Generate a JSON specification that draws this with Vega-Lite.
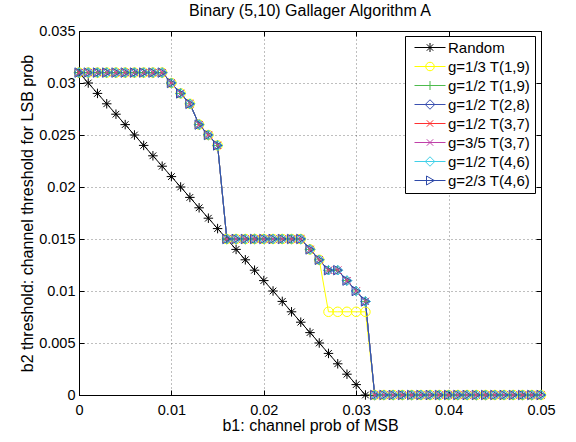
{
  "$schema": "https://vega.github.io/schema/vega-lite/v6.json",
  "autosize": "none",
  "width": 462,
  "height": 364,
  "padding": {"left": 79, "top": 31, "right": 35, "bottom": 47},
  "background": "white",
  "title": {"text": "Binary (5,10) Gallager Algorithm A", "font": "Liberation Sans", "fontSize": 16, "fontWeight": "normal", "color": "black", "anchor": "middle", "frame": "group", "baseline": "alphabetic", "offset": 12, "dy": 21},
  "config": {
    "view": {"stroke": "black", "strokeWidth": 1},
    "axis": {"domainColor": "black", "domainWidth": 1, "tickColor": "black", "tickSize": -5, "labelColor": "black", "titleColor": "black", "labelFont": "Liberation Sans", "titleFont": "Liberation Sans", "labelFontSize": 14.5, "titleFontSize": 16, "titleFontWeight": "normal", "gridColor": "#000000", "gridOpacity": 0.5, "gridDash": [1, 3], "gridWidth": 1}
  },
  "data": {"values": [
    {"x":0,"Random":0.031,"g=1/3 T(1,9)":0.031,"g=1/2 T(1,9)":0.031,"g=1/2 T(2,8)":0.031,"g=1/2 T(3,7)":0.031,"g=3/5 T(3,7)":0.031,"g=1/2 T(4,6)":0.031,"g=2/3 T(4,6)":0.031},
    {"x":0.001,"Random":0.030,"g=1/3 T(1,9)":0.031,"g=1/2 T(1,9)":0.031,"g=1/2 T(2,8)":0.031,"g=1/2 T(3,7)":0.031,"g=3/5 T(3,7)":0.031,"g=1/2 T(4,6)":0.031,"g=2/3 T(4,6)":0.031},
    {"x":0.002,"Random":0.029,"g=1/3 T(1,9)":0.031,"g=1/2 T(1,9)":0.031,"g=1/2 T(2,8)":0.031,"g=1/2 T(3,7)":0.031,"g=3/5 T(3,7)":0.031,"g=1/2 T(4,6)":0.031,"g=2/3 T(4,6)":0.031},
    {"x":0.003,"Random":0.028,"g=1/3 T(1,9)":0.031,"g=1/2 T(1,9)":0.031,"g=1/2 T(2,8)":0.031,"g=1/2 T(3,7)":0.031,"g=3/5 T(3,7)":0.031,"g=1/2 T(4,6)":0.031,"g=2/3 T(4,6)":0.031},
    {"x":0.004,"Random":0.027,"g=1/3 T(1,9)":0.031,"g=1/2 T(1,9)":0.031,"g=1/2 T(2,8)":0.031,"g=1/2 T(3,7)":0.031,"g=3/5 T(3,7)":0.031,"g=1/2 T(4,6)":0.031,"g=2/3 T(4,6)":0.031},
    {"x":0.005,"Random":0.026,"g=1/3 T(1,9)":0.031,"g=1/2 T(1,9)":0.031,"g=1/2 T(2,8)":0.031,"g=1/2 T(3,7)":0.031,"g=3/5 T(3,7)":0.031,"g=1/2 T(4,6)":0.031,"g=2/3 T(4,6)":0.031},
    {"x":0.006,"Random":0.025,"g=1/3 T(1,9)":0.031,"g=1/2 T(1,9)":0.031,"g=1/2 T(2,8)":0.031,"g=1/2 T(3,7)":0.031,"g=3/5 T(3,7)":0.031,"g=1/2 T(4,6)":0.031,"g=2/3 T(4,6)":0.031},
    {"x":0.007,"Random":0.024,"g=1/3 T(1,9)":0.031,"g=1/2 T(1,9)":0.031,"g=1/2 T(2,8)":0.031,"g=1/2 T(3,7)":0.031,"g=3/5 T(3,7)":0.031,"g=1/2 T(4,6)":0.031,"g=2/3 T(4,6)":0.031},
    {"x":0.008,"Random":0.023,"g=1/3 T(1,9)":0.031,"g=1/2 T(1,9)":0.031,"g=1/2 T(2,8)":0.031,"g=1/2 T(3,7)":0.031,"g=3/5 T(3,7)":0.031,"g=1/2 T(4,6)":0.031,"g=2/3 T(4,6)":0.031},
    {"x":0.009,"Random":0.022,"g=1/3 T(1,9)":0.031,"g=1/2 T(1,9)":0.031,"g=1/2 T(2,8)":0.031,"g=1/2 T(3,7)":0.031,"g=3/5 T(3,7)":0.031,"g=1/2 T(4,6)":0.031,"g=2/3 T(4,6)":0.031},
    {"x":0.010,"Random":0.021,"g=1/3 T(1,9)":0.030,"g=1/2 T(1,9)":0.030,"g=1/2 T(2,8)":0.030,"g=1/2 T(3,7)":0.030,"g=3/5 T(3,7)":0.030,"g=1/2 T(4,6)":0.030,"g=2/3 T(4,6)":0.030},
    {"x":0.011,"Random":0.020,"g=1/3 T(1,9)":0.029,"g=1/2 T(1,9)":0.029,"g=1/2 T(2,8)":0.029,"g=1/2 T(3,7)":0.029,"g=3/5 T(3,7)":0.029,"g=1/2 T(4,6)":0.029,"g=2/3 T(4,6)":0.029},
    {"x":0.012,"Random":0.019,"g=1/3 T(1,9)":0.028,"g=1/2 T(1,9)":0.028,"g=1/2 T(2,8)":0.028,"g=1/2 T(3,7)":0.028,"g=3/5 T(3,7)":0.028,"g=1/2 T(4,6)":0.028,"g=2/3 T(4,6)":0.028},
    {"x":0.013,"Random":0.018,"g=1/3 T(1,9)":0.026,"g=1/2 T(1,9)":0.026,"g=1/2 T(2,8)":0.026,"g=1/2 T(3,7)":0.026,"g=3/5 T(3,7)":0.026,"g=1/2 T(4,6)":0.026,"g=2/3 T(4,6)":0.026},
    {"x":0.014,"Random":0.017,"g=1/3 T(1,9)":0.025,"g=1/2 T(1,9)":0.025,"g=1/2 T(2,8)":0.025,"g=1/2 T(3,7)":0.025,"g=3/5 T(3,7)":0.025,"g=1/2 T(4,6)":0.025,"g=2/3 T(4,6)":0.025},
    {"x":0.015,"Random":0.016,"g=1/3 T(1,9)":0.024,"g=1/2 T(1,9)":0.024,"g=1/2 T(2,8)":0.024,"g=1/2 T(3,7)":0.024,"g=3/5 T(3,7)":0.024,"g=1/2 T(4,6)":0.024,"g=2/3 T(4,6)":0.024},
    {"x":0.016,"Random":0.015,"g=1/3 T(1,9)":0.015,"g=1/2 T(1,9)":0.015,"g=1/2 T(2,8)":0.015,"g=1/2 T(3,7)":0.015,"g=3/5 T(3,7)":0.015,"g=1/2 T(4,6)":0.015,"g=2/3 T(4,6)":0.015},
    {"x":0.017,"Random":0.014,"g=1/3 T(1,9)":0.015,"g=1/2 T(1,9)":0.015,"g=1/2 T(2,8)":0.015,"g=1/2 T(3,7)":0.015,"g=3/5 T(3,7)":0.015,"g=1/2 T(4,6)":0.015,"g=2/3 T(4,6)":0.015},
    {"x":0.018,"Random":0.013,"g=1/3 T(1,9)":0.015,"g=1/2 T(1,9)":0.015,"g=1/2 T(2,8)":0.015,"g=1/2 T(3,7)":0.015,"g=3/5 T(3,7)":0.015,"g=1/2 T(4,6)":0.015,"g=2/3 T(4,6)":0.015},
    {"x":0.019,"Random":0.012,"g=1/3 T(1,9)":0.015,"g=1/2 T(1,9)":0.015,"g=1/2 T(2,8)":0.015,"g=1/2 T(3,7)":0.015,"g=3/5 T(3,7)":0.015,"g=1/2 T(4,6)":0.015,"g=2/3 T(4,6)":0.015},
    {"x":0.020,"Random":0.011,"g=1/3 T(1,9)":0.015,"g=1/2 T(1,9)":0.015,"g=1/2 T(2,8)":0.015,"g=1/2 T(3,7)":0.015,"g=3/5 T(3,7)":0.015,"g=1/2 T(4,6)":0.015,"g=2/3 T(4,6)":0.015},
    {"x":0.021,"Random":0.010,"g=1/3 T(1,9)":0.015,"g=1/2 T(1,9)":0.015,"g=1/2 T(2,8)":0.015,"g=1/2 T(3,7)":0.015,"g=3/5 T(3,7)":0.015,"g=1/2 T(4,6)":0.015,"g=2/3 T(4,6)":0.015},
    {"x":0.022,"Random":0.009,"g=1/3 T(1,9)":0.015,"g=1/2 T(1,9)":0.015,"g=1/2 T(2,8)":0.015,"g=1/2 T(3,7)":0.015,"g=3/5 T(3,7)":0.015,"g=1/2 T(4,6)":0.015,"g=2/3 T(4,6)":0.015},
    {"x":0.023,"Random":0.008,"g=1/3 T(1,9)":0.015,"g=1/2 T(1,9)":0.015,"g=1/2 T(2,8)":0.015,"g=1/2 T(3,7)":0.015,"g=3/5 T(3,7)":0.015,"g=1/2 T(4,6)":0.015,"g=2/3 T(4,6)":0.015},
    {"x":0.024,"Random":0.007,"g=1/3 T(1,9)":0.015,"g=1/2 T(1,9)":0.015,"g=1/2 T(2,8)":0.015,"g=1/2 T(3,7)":0.015,"g=3/5 T(3,7)":0.015,"g=1/2 T(4,6)":0.015,"g=2/3 T(4,6)":0.015},
    {"x":0.025,"Random":0.006,"g=1/3 T(1,9)":0.014,"g=1/2 T(1,9)":0.014,"g=1/2 T(2,8)":0.014,"g=1/2 T(3,7)":0.014,"g=3/5 T(3,7)":0.014,"g=1/2 T(4,6)":0.014,"g=2/3 T(4,6)":0.014},
    {"x":0.026,"Random":0.005,"g=1/3 T(1,9)":0.013,"g=1/2 T(1,9)":0.013,"g=1/2 T(2,8)":0.013,"g=1/2 T(3,7)":0.013,"g=3/5 T(3,7)":0.013,"g=1/2 T(4,6)":0.013,"g=2/3 T(4,6)":0.013},
    {"x":0.027,"Random":0.004,"g=1/3 T(1,9)":0.008,"g=1/2 T(1,9)":0.012,"g=1/2 T(2,8)":0.012,"g=1/2 T(3,7)":0.012,"g=3/5 T(3,7)":0.012,"g=1/2 T(4,6)":0.012,"g=2/3 T(4,6)":0.012},
    {"x":0.028,"Random":0.003,"g=1/3 T(1,9)":0.008,"g=1/2 T(1,9)":0.012,"g=1/2 T(2,8)":0.012,"g=1/2 T(3,7)":0.012,"g=3/5 T(3,7)":0.012,"g=1/2 T(4,6)":0.012,"g=2/3 T(4,6)":0.012},
    {"x":0.029,"Random":0.002,"g=1/3 T(1,9)":0.008,"g=1/2 T(1,9)":0.011,"g=1/2 T(2,8)":0.011,"g=1/2 T(3,7)":0.011,"g=3/5 T(3,7)":0.011,"g=1/2 T(4,6)":0.011,"g=2/3 T(4,6)":0.011},
    {"x":0.030,"Random":0.001,"g=1/3 T(1,9)":0.008,"g=1/2 T(1,9)":0.010,"g=1/2 T(2,8)":0.010,"g=1/2 T(3,7)":0.010,"g=3/5 T(3,7)":0.010,"g=1/2 T(4,6)":0.010,"g=2/3 T(4,6)":0.010},
    {"x":0.031,"Random":0,"g=1/3 T(1,9)":0.008,"g=1/2 T(1,9)":0.009,"g=1/2 T(2,8)":0.009,"g=1/2 T(3,7)":0.009,"g=3/5 T(3,7)":0.009,"g=1/2 T(4,6)":0.009,"g=2/3 T(4,6)":0.009},
    {"x":0.032,"g=1/3 T(1,9)":0,"g=1/2 T(1,9)":0,"g=1/2 T(2,8)":0,"g=1/2 T(3,7)":0,"g=3/5 T(3,7)":0,"g=1/2 T(4,6)":0,"g=2/3 T(4,6)":0},
    {"x":0.033,"g=1/3 T(1,9)":0,"g=1/2 T(1,9)":0,"g=1/2 T(2,8)":0,"g=1/2 T(3,7)":0,"g=3/5 T(3,7)":0,"g=1/2 T(4,6)":0,"g=2/3 T(4,6)":0},
    {"x":0.034,"g=1/3 T(1,9)":0,"g=1/2 T(1,9)":0,"g=1/2 T(2,8)":0,"g=1/2 T(3,7)":0,"g=3/5 T(3,7)":0,"g=1/2 T(4,6)":0,"g=2/3 T(4,6)":0},
    {"x":0.035,"g=1/3 T(1,9)":0,"g=1/2 T(1,9)":0,"g=1/2 T(2,8)":0,"g=1/2 T(3,7)":0,"g=3/5 T(3,7)":0,"g=1/2 T(4,6)":0,"g=2/3 T(4,6)":0},
    {"x":0.036,"g=1/3 T(1,9)":0,"g=1/2 T(1,9)":0,"g=1/2 T(2,8)":0,"g=1/2 T(3,7)":0,"g=3/5 T(3,7)":0,"g=1/2 T(4,6)":0,"g=2/3 T(4,6)":0},
    {"x":0.037,"g=1/3 T(1,9)":0,"g=1/2 T(1,9)":0,"g=1/2 T(2,8)":0,"g=1/2 T(3,7)":0,"g=3/5 T(3,7)":0,"g=1/2 T(4,6)":0,"g=2/3 T(4,6)":0},
    {"x":0.038,"g=1/3 T(1,9)":0,"g=1/2 T(1,9)":0,"g=1/2 T(2,8)":0,"g=1/2 T(3,7)":0,"g=3/5 T(3,7)":0,"g=1/2 T(4,6)":0,"g=2/3 T(4,6)":0},
    {"x":0.039,"g=1/3 T(1,9)":0,"g=1/2 T(1,9)":0,"g=1/2 T(2,8)":0,"g=1/2 T(3,7)":0,"g=3/5 T(3,7)":0,"g=1/2 T(4,6)":0,"g=2/3 T(4,6)":0},
    {"x":0.040,"g=1/3 T(1,9)":0,"g=1/2 T(1,9)":0,"g=1/2 T(2,8)":0,"g=1/2 T(3,7)":0,"g=3/5 T(3,7)":0,"g=1/2 T(4,6)":0,"g=2/3 T(4,6)":0},
    {"x":0.041,"g=1/3 T(1,9)":0,"g=1/2 T(1,9)":0,"g=1/2 T(2,8)":0,"g=1/2 T(3,7)":0,"g=3/5 T(3,7)":0,"g=1/2 T(4,6)":0,"g=2/3 T(4,6)":0},
    {"x":0.042,"g=1/3 T(1,9)":0,"g=1/2 T(1,9)":0,"g=1/2 T(2,8)":0,"g=1/2 T(3,7)":0,"g=3/5 T(3,7)":0,"g=1/2 T(4,6)":0,"g=2/3 T(4,6)":0},
    {"x":0.043,"g=1/3 T(1,9)":0,"g=1/2 T(1,9)":0,"g=1/2 T(2,8)":0,"g=1/2 T(3,7)":0,"g=3/5 T(3,7)":0,"g=1/2 T(4,6)":0,"g=2/3 T(4,6)":0},
    {"x":0.044,"g=1/3 T(1,9)":0,"g=1/2 T(1,9)":0,"g=1/2 T(2,8)":0,"g=1/2 T(3,7)":0,"g=3/5 T(3,7)":0,"g=1/2 T(4,6)":0,"g=2/3 T(4,6)":0},
    {"x":0.045,"g=1/3 T(1,9)":0,"g=1/2 T(1,9)":0,"g=1/2 T(2,8)":0,"g=1/2 T(3,7)":0,"g=3/5 T(3,7)":0,"g=1/2 T(4,6)":0,"g=2/3 T(4,6)":0},
    {"x":0.046,"g=1/3 T(1,9)":0,"g=1/2 T(1,9)":0,"g=1/2 T(2,8)":0,"g=1/2 T(3,7)":0,"g=3/5 T(3,7)":0,"g=1/2 T(4,6)":0,"g=2/3 T(4,6)":0},
    {"x":0.047,"g=1/3 T(1,9)":0,"g=1/2 T(1,9)":0,"g=1/2 T(2,8)":0,"g=1/2 T(3,7)":0,"g=3/5 T(3,7)":0,"g=1/2 T(4,6)":0,"g=2/3 T(4,6)":0},
    {"x":0.048,"g=1/3 T(1,9)":0,"g=1/2 T(1,9)":0,"g=1/2 T(2,8)":0,"g=1/2 T(3,7)":0,"g=3/5 T(3,7)":0,"g=1/2 T(4,6)":0,"g=2/3 T(4,6)":0},
    {"x":0.049,"g=1/3 T(1,9)":0,"g=1/2 T(1,9)":0,"g=1/2 T(2,8)":0,"g=1/2 T(3,7)":0,"g=3/5 T(3,7)":0,"g=1/2 T(4,6)":0,"g=2/3 T(4,6)":0},
    {"x":0.050,"g=1/3 T(1,9)":0,"g=1/2 T(1,9)":0,"g=1/2 T(2,8)":0,"g=1/2 T(3,7)":0,"g=3/5 T(3,7)":0,"g=1/2 T(4,6)":0,"g=2/3 T(4,6)":0}
  ]},
  "transform": [
    {"fold": ["Random", "g=1/3 T(1,9)", "g=1/2 T(1,9)", "g=1/2 T(2,8)", "g=1/2 T(3,7)", "g=3/5 T(3,7)", "g=1/2 T(4,6)", "g=2/3 T(4,6)"], "as": ["series", "y"]},
    {"filter": "isValid(datum.y)"}
  ],
  "layer": [
    {
      "mark": {"type": "line", "strokeWidth": 1, "clip": false},
      "encoding": {
        "x": {"field": "x", "type": "quantitative", "scale": {"domain": [0, 0.05], "nice": false, "zero": false},
              "axis": {"title": "b1: channel prob of MSB", "values": [0, 0.01, 0.02, 0.03, 0.04, 0.05], "format": "~g", "grid": true, "labelPadding": 13, "titlePadding": 1, "labelFlush": false}},
        "y": {"field": "y", "type": "quantitative", "scale": {"domain": [0, 0.035], "nice": false, "zero": false},
              "axis": {"title": "b2 threshold: channel threshold for LSB prob", "values": [0, 0.005, 0.01, 0.015, 0.02, 0.025, 0.03, 0.035], "format": "~g", "grid": true, "labelPadding": 9, "titlePadding": 3, "labelFlush": false}},
        "color": {"field": "series", "type": "nominal",
          "scale": {"domain": ["Random", "g=1/3 T(1,9)", "g=1/2 T(1,9)", "g=1/2 T(2,8)", "g=1/2 T(3,7)", "g=3/5 T(3,7)", "g=1/2 T(4,6)", "g=2/3 T(4,6)"],
                    "range": ["#000000", "#ffff00", "#4dbb4d", "#3a50b0", "#ff3030", "#c040a8", "#40d0e8", "#2f4aa8"]},
          "legend": {"title": null, "orient": "none", "legendX": 326, "legendY": 5, "padding": 4, "strokeColor": "black", "fillColor": "white",
                     "labelFont": "Liberation Sans", "labelFontSize": 15, "labelColor": "black", "labelOffset": 24, "symbolSize": 100, "rowPadding": 3, "symbolStrokeWidth": 1,
                     "encode": {"symbols": {"update": {
                       "fill": {"value": "transparent"},
                       "shape": {"signal": "datum.value === 'Random' ? 'M-0.4,0H5.8M1.8,0H3.6M2.7,-0.9V0.9M2.06,-0.64L3.34,0.64M2.06,0.64L3.34,-0.64' : datum.value === 'g=1/3 T(1,9)' ? 'M-0.4,0H5.8M3.55,0A0.85,0.85 0 1 1 1.85,0A0.85,0.85 0 1 1 3.55,0' : datum.value === 'g=1/2 T(1,9)' ? 'M-0.4,0H5.8M2.7,-0.9V0.9' : (datum.value === 'g=1/2 T(2,8)' || datum.value === 'g=1/2 T(4,6)') ? 'M-0.4,0H5.8M2.7,-0.95L3.65,0L2.7,0.95L1.75,0Z' : datum.value === 'g=2/3 T(4,6)' ? 'M-0.4,0H5.8M2.0,-0.9L3.55,0L2.0,0.9Z' : 'M-0.4,0H5.8M2.06,-0.64L3.34,0.64M2.06,0.64L3.34,-0.64'"}
                     }}}}
        }
      }
    },
    {
      "mark": {"type": "point", "filled": false, "strokeWidth": 1, "size": 90, "opacity": 1, "clip": false},
      "encoding": {
        "x": {"field": "x", "type": "quantitative", "axis": {"orient": "top", "labels": false, "title": null, "grid": false, "domain": false, "values": [0, 0.01, 0.02, 0.03, 0.04, 0.05]}},
        "y": {"field": "y", "type": "quantitative", "axis": {"orient": "right", "labels": false, "title": null, "grid": false, "domain": false, "values": [0, 0.005, 0.01, 0.015, 0.02, 0.025, 0.03, 0.035]}},
        "color": {"field": "series", "type": "nominal"},
        "shape": {"field": "series", "type": "nominal", "legend": null,
          "scale": {"domain": ["g=2/3 T(4,6)", "g=1/2 T(4,6)", "g=3/5 T(3,7)", "g=1/2 T(3,7)", "g=1/2 T(2,8)", "g=1/2 T(1,9)", "g=1/3 T(1,9)", "Random"],
                    "range": ["triangle-right", "diamond", "M-0.75,-0.75L0.75,0.75M-0.75,0.75L0.75,-0.75", "M-0.75,-0.75L0.75,0.75M-0.75,0.75L0.75,-0.75", "diamond", "M-1,0H1M0,-1V1", "circle", "M-1,0H1M0,-1V1M-0.7,-0.7L0.7,0.7M-0.7,0.7L0.7,-0.7"]}}
      }
    }
  ],
  "resolve": {"axis": {"x": "independent", "y": "independent"}}
}
